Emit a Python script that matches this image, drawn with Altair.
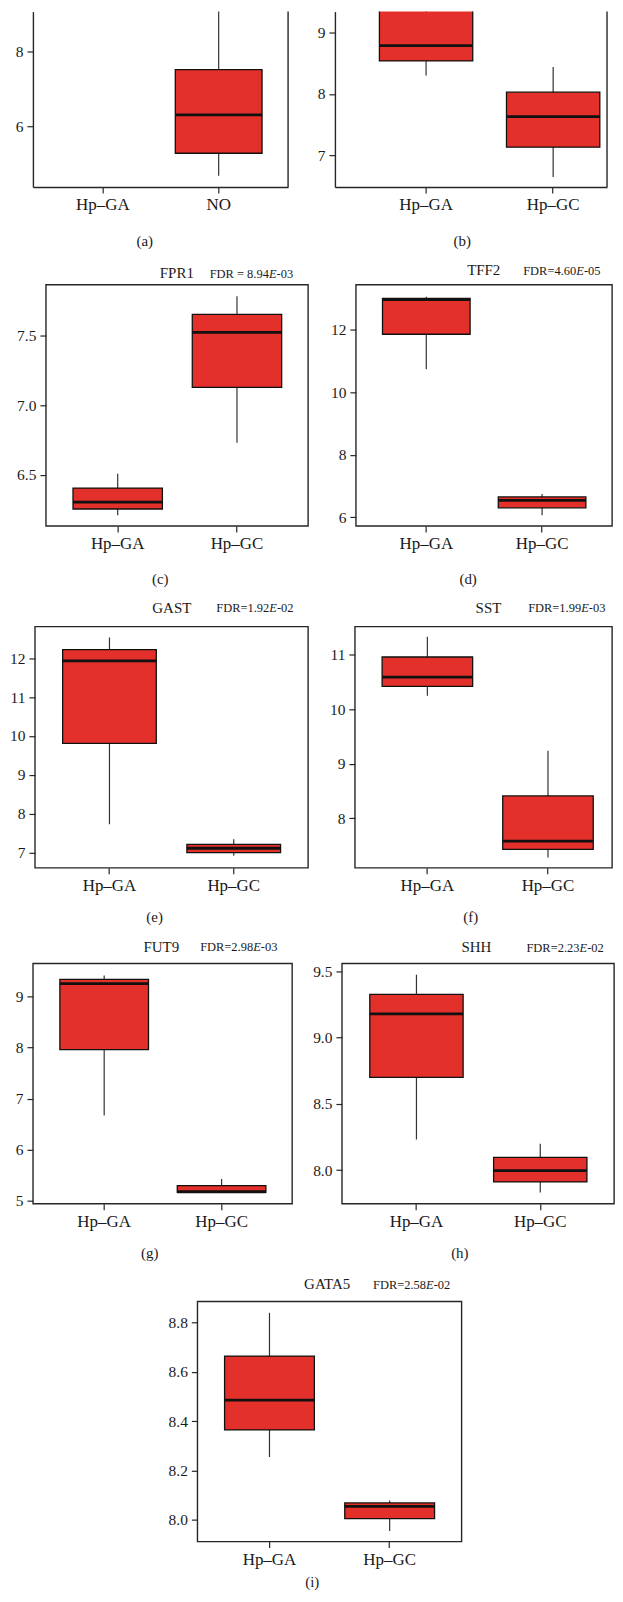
import altair as alt
import pandas as pd

# ---------------- data ----------------
panel_keys = ["a", "b", "c", "d", "e", "f", "g", "h", "i"]
panel_labels = ["(a)", "(b)", "(c)", "(d)", "(e)", "(f)", "(g)", "(h)", "(i)"]
gene_names = ["", "", "FPR1", "TFF2", "GAST", "SST", "FUT9", "SHH", "GATA5"]
fdr_prefix = ["", "", "FDR = 8.94", "FDR=4.60", "FDR=1.92", "FDR=1.99",
              "FDR=2.98", "FDR=2.23", "FDR=2.58"]
fdr_exponent = ["", "", "-03", "-05", "-02", "-03", "-03", "-02", "-02"]

categories_a = ["Hp–GA", "NO"]
categories = ["Hp–GA", "Hp–GC"]

box_panel = ["a", "b", "b", "c", "c", "d", "d", "e", "e", "f", "f",
             "g", "g", "h", "h", "i", "i"]
box_group = ["NO", "Hp–GA", "Hp–GC", "Hp–GA", "Hp–GC", "Hp–GA", "Hp–GC",
             "Hp–GA", "Hp–GC", "Hp–GA", "Hp–GC", "Hp–GA", "Hp–GC",
             "Hp–GA", "Hp–GC", "Hp–GA", "Hp–GC"]
box_low = [4.69, 8.30, 6.64, 6.21, 6.73, 10.74, 6.06, 7.73, 6.92, 10.25, 7.28,
           6.67, 5.16, 8.23, 7.83, 8.254, 7.954]
box_q1 = [5.29, 8.54, 7.13, 6.255, 7.126, 11.86, 6.30, 9.81, 7.00, 10.42, 7.43,
          7.96, 5.17, 8.70, 7.91, 8.364, 8.004]
box_median = [6.31, 8.79, 7.63, 6.305, 7.52, 12.97, 6.54, 11.93, 7.11, 10.59, 7.58,
              9.25, 5.18, 9.18, 7.995, 8.485, 8.054]
box_q3 = [7.51, 9.60, 8.03, 6.405, 7.65, 13.01, 6.65, 12.22, 7.21, 10.96, 8.41,
          9.33, 5.30, 9.327, 8.095, 8.664, 8.068]
box_high = [9.09, 10.00, 8.44, 6.507, 7.78, 13.06, 6.74, 12.53, 7.34, 11.33, 9.24,
            9.41, 5.43, 9.475, 8.198, 8.84, 8.078]

y_ticks = {
    "a": [6, 8], "b": [7, 8, 9], "c": [6.5, 7.0, 7.5], "d": [6, 8, 10, 12],
    "e": [7, 8, 9, 10, 11, 12], "f": [8, 9, 10, 11], "g": [5, 6, 7, 8, 9],
    "h": [8.0, 8.5, 9.0, 9.5], "i": [8.0, 8.2, 8.4, 8.6, 8.8],
}

box_df = pd.DataFrame({
    "panel": box_panel, "group": box_group, "low": box_low, "q1": box_q1,
    "median": box_median, "q3": box_q3, "high": box_high,
})

# ---------------- layout / style (reference pixel geometry) ----------------
FONT = "Liberation Serif"
RED = "#e3302a"
EDGE = "#111111"
FRAME = "#262626"
TEXT = "#1a1a1a"
SX = 0.987
FDR_SIZE = 12.5


def X(r):
    return int(round(r * SX))


layout = {
    "a": dict(L=24, R=284, top=8, bottom=184, c=(0.274, 0.728, 0.34),
              ydom=(4.394, 9.050), fmt="d", cut=True, letter=(138, 238.3)),
    "b": dict(L=331.7, R=608.3, top=8, bottom=184, c=(0.335, 0.802, 0.343),
              ydom=(6.478, 9.347), fmt="d", cut=True, letter=(460.7, 238.3)),
    "c": dict(L=37.3, R=304, top=282, bottom=524, c=(0.274, 0.729, 0.341),
              ydom=(6.134, 7.862), fmt=".1f", cut=False, letter=(153.7, 577),
              gene_x=153.3, fdr_x=204, title_y=270.7),
    "d": dict(L=352.3, R=613.3, top=282, bottom=524, c=(0.275, 0.727, 0.342),
              ydom=(5.722, 13.446), fmt="d", cut=False, letter=(466.7, 577),
              gene_x=465.7, fdr_x=522.7, title_y=267.3),
    "e": dict(L=26.7, R=304, top=625, bottom=867, c=(0.273, 0.728, 0.343),
              ydom=(6.608, 12.813), fmt="d", cut=False, letter=(148, 916.7),
              gene_x=145.7, fdr_x=210.7, title_y=606),
    "f": dict(L=351.7, R=612.7, top=625, bottom=867, c=(0.282, 0.751, 0.352),
              ydom=(7.091, 11.518), fmt="d", cut=False, letter=(469.3, 916.7),
              gene_x=474.3, fdr_x=527.7, title_y=606),
    "g": dict(L=24.3, R=287.3, top=963, bottom=1204, c=(0.275, 0.728, 0.342),
              ydom=(4.947, 9.643), fmt="d", cut=False, letter=(143, 1253.3),
              gene_x=136.7, fdr_x=194.3, title_y=946),
    "h": dict(L=338.3, R=615, top=963, bottom=1204, c=(0.274, 0.729, 0.343),
              ydom=(7.746, 9.560), fmt=".1f", cut=False, letter=(458.3, 1253.3),
              gene_x=460, fdr_x=526, title_y=946.7),
    "i": dict(L=191.7, R=460, top=1302, bottom=1543, c=(0.273, 0.728, 0.34),
              ydom=(7.911, 8.886), fmt=".1f", cut=False, letter=(308.3, 1584),
              gene_x=300, fdr_x=370, title_y=1285),
}

# rows: (left panel, right panel, space kept above plot top, extent below plot top)
rows = [("a", "b", 0, 244), ("c", "d", 30, 313), ("e", "f", 30, 308),
        ("g", "h", 30, 309), ("i", None, 30, 280)]

# Times / Liberation Serif advance widths (per 1000 em)
TNR = {"F": 556, "D": 722, "R": 667, "=": 564, " ": 250, ".": 250, "E": 611, "-": 333}


def tw(s, size):
    return sum(TNR.get(ch, 500) for ch in s) * size / 1000.0


ONE = pd.DataFrame({"t": [0]})


def spacer(w, h, above=0):
    base = alt.Chart(ONE)
    if above > 0:
        m = base.mark_rule(opacity=0, strokeWidth=1).encode(
            x=alt.value(w / 2.0), y=alt.value(-above + 0.5), y2=alt.value(h / 2.0))
    else:
        m = base.mark_point(opacity=0, size=1).encode(
            x=alt.value(w / 2.0), y=alt.value(h / 2.0))
    return m.properties(width=w, height=h)


def text_layer(s, x, y, size, italic=False, align="left"):
    return alt.Chart(ONE).mark_text(
        text=s, font=FONT, fontSize=size, fontStyle="italic" if italic else "normal",
        align=align, baseline="middle", color=TEXT,
    ).encode(x=alt.value(x), y=alt.value(y))


def panel(key):
    cfg = layout[key]
    idx = panel_keys.index(key)
    L, R, top, bottom = cfg["L"], cfg["R"], cfg["top"], cfg["bottom"]
    W = X(R) - X(L)
    H = bottom - top
    c1, c2, bw = cfg["c"]
    s = c2 - c1
    pin = 1 - bw / s
    rest = 1 - s - bw
    pout = rest / (2 * s)
    al = (c1 - bw / 2) / rest
    cats = categories_a if key == "a" else categories
    cut = cfg["cut"]
    df = box_df[box_df["panel"] == key]

    xsc = alt.Scale(domain=cats, paddingInner=pin, paddingOuter=pout, align=al)
    ysc = alt.Scale(domain=list(cfg["ydom"]), nice=False, zero=False)
    xax = alt.Axis(title=None, labelAngle=0, labelFontSize=17, labelPadding=4,
                   domain=cut, tickSize=6)
    yax = alt.Axis(title=None, values=y_ticks[key], format=cfg["fmt"], domain=cut,
                   labelFlush=False, tickSize=6, labelPadding=4)
    xenc = alt.X("group:N", scale=xsc, axis=xax)
    base = alt.Chart(df)

    layers = [
        base.mark_rule(clip=True, color="#333333", strokeWidth=1.2).encode(
            x=xenc, y=alt.Y("low:Q", scale=ysc, axis=yax), y2="high:Q"),
        base.mark_bar(clip=True, fill=RED, stroke=EDGE, strokeWidth=1.3, opacity=1).encode(
            x=xenc, y=alt.Y("q1:Q", scale=ysc, axis=yax), y2="q3:Q"),
        base.mark_tick(clip=True, color=EDGE, thickness=2.8, size=bw * W, opacity=1).encode(
            x=xenc, y=alt.Y("median:Q", scale=ysc, axis=yax)),
    ]
    if cut:
        layers.append(
            alt.Chart(ONE).mark_rule(color=FRAME, strokeWidth=1.4).encode(
                x=alt.value(W), y=alt.value(0), y2=alt.value(H)))
    else:
        ty = cfg["title_y"] - top
        layers.append(text_layer(gene_names[idx], cfg["gene_x"] * SX - X(L), ty, 15))
        fx = cfg["fdr_x"] * SX - X(L)
        pre = fdr_prefix[idx]
        layers.append(text_layer(pre, fx, ty + 0.5, FDR_SIZE))
        fx2 = fx + tw(pre, FDR_SIZE)
        layers.append(text_layer("E", fx2, ty + 0.5, FDR_SIZE, italic=True))
        fx3 = fx2 + tw("E", FDR_SIZE)
        layers.append(text_layer(fdr_exponent[idx], fx3, ty + 0.5, FDR_SIZE))

    lx, ly = cfg["letter"]
    layers.append(text_layer(panel_labels[idx], lx * SX - X(L), ly - top, 15, align="center"))

    props = dict(width=W, height=H)
    if not cut:
        props["view"] = alt.ViewBackground(stroke=FRAME, strokeWidth=1.4)
    return alt.layer(*layers).properties(**props)


row_charts = []
for k1, k2, above, below in rows:
    c1 = layout[k1]
    cells = [spacer(X(c1["L"]), below, above), panel(k1)]
    if k2 is not None:
        c2 = layout[k2]
        cells += [spacer(X(c2["L"]) - X(c1["R"]), 10), panel(k2)]
    row_charts.append(alt.hconcat(*cells, spacing=0, bounds="flush"))

chart = alt.vconcat(*row_charts, spacing=0).properties(padding=0).configure_view(
    strokeWidth=0
).configure_axis(
    labelFont=FONT, labelFontSize=15.5, labelColor=TEXT, tickColor=FRAME,
    tickWidth=1.2, domainColor=FRAME, domainWidth=1.4, grid=False,
)

chart.save("out.html", embed_options={"renderer": "svg", "actions": False})
